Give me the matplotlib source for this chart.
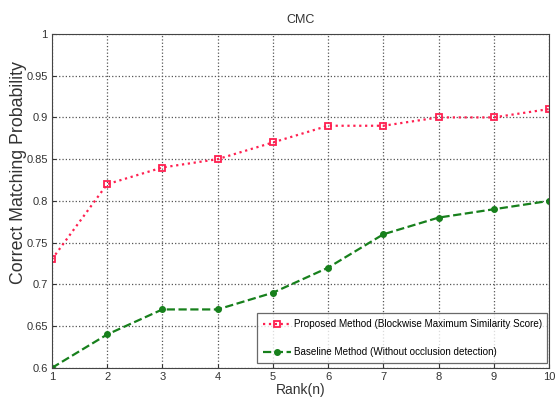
import matplotlib.pyplot as plt

plt.rcParams['font.family'] = ['Liberation Sans', 'DejaVu Sans']

# CMC curve values
rank = [1, 2, 3, 4, 5, 6, 7, 8, 9, 10]
proposed = [0.73, 0.82, 0.84, 0.85, 0.87, 0.89, 0.89, 0.90, 0.90, 0.91]
baseline = [0.60, 0.64, 0.67, 0.67, 0.69, 0.72, 0.76, 0.78, 0.79, 0.80]
yticks = [0.6, 0.65, 0.7, 0.75, 0.8, 0.85, 0.9, 0.95, 1]
ytick_labels = ['0.6', '0.65', '0.7', '0.75', '0.8', '0.85', '0.9', '0.95', '1']

fig = plt.figure(figsize=(5.58, 3.99), dpi=100)
ax = fig.add_axes([0.093, 0.078, 0.891, 0.837])

ax.plot(rank, proposed, linestyle=':', color='#ff2050', linewidth=1.6,
        marker='s', markersize=5, markerfacecolor='none', markeredgewidth=1.3,
        label='Proposed Method (Blockwise Maximum Similarity Score)')
ax.plot(rank, baseline, linestyle='--', color='#17801c', linewidth=1.6,
        marker='o', markersize=4,
        label='Baseline Method (Without occlusion detection)')

ax.set_xlim(1, 10)
ax.set_ylim(0.6, 1)
ax.set_xticks(rank)
ax.set_yticks(yticks)
ax.set_yticklabels(ytick_labels)
ax.tick_params(labelsize=8, direction='in', length=3, colors='#333333', pad=3)
ax.grid(True, linestyle=':', color='#555555', linewidth=0.9)

for s in ax.spines.values():
    s.set_color('#444444')

ax.set_title('CMC', fontsize=9, color='#333333', pad=8)
ax.set_xlabel('Rank(n)', fontsize=10, color='#333333', labelpad=1)
ax.set_ylabel('Correct Matching Probability', fontsize=12.8, color='#333333')
ax.yaxis.set_label_coords(-0.05, 0.584)

leg = ax.legend(loc='lower left', bbox_to_anchor=(0.4125, 0.015, 0.584, 0.2),
                mode='expand', borderaxespad=0, fontsize=7.1,
                frameon=True, fancybox=False, edgecolor='#444444',
                handlelength=2.9, handletextpad=0.25, borderpad=0.6,
                labelspacing=1.8)
leg.get_frame().set_linewidth(0.9)

fig.savefig('out.png', dpi=100)
